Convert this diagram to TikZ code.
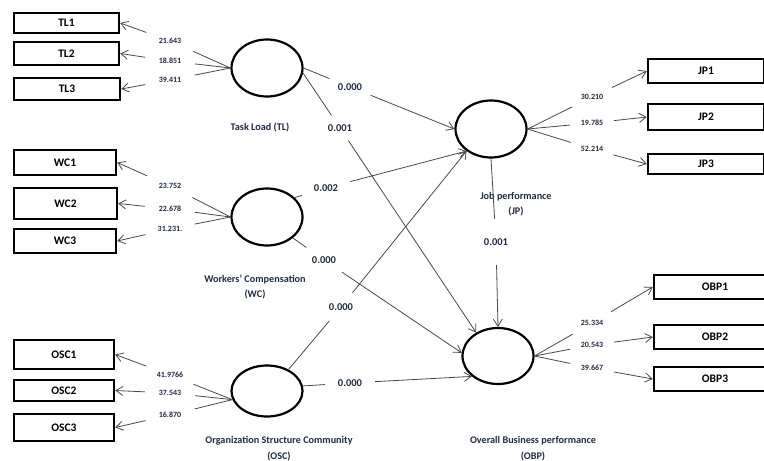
\documentclass[tikz,border=0pt]{standalone}
\usepackage{fontspec}
\setmainfont{Carlito}
\usetikzlibrary{shapes.geometric,arrows.meta}
\definecolor{navy}{RGB}{31,42,68}
\definecolor{linegrey}{RGB}{72,72,72}
\begin{document}
\begin{tikzpicture}[x=1pt,y=-1pt,
	ind/.style={draw,line width=2.4pt,inner sep=0pt,font=\bfseries\fontsize{11.5}{12}\selectfont},
	lat/.style={draw,ellipse,line width=2.2pt,inner sep=0pt,minimum width=71pt,minimum height=57pt},
	ldg/.style={circle,inner sep=0pt,minimum size=50pt,text=navy,font=\bfseries\fontsize{8}{9}\selectfont},
	coef/.style={circle,inner sep=0pt,minimum size=44pt,text=navy,font=\bfseries\fontsize{10.5}{12}\selectfont},
	cname/.style={align=center,text=navy,font=\bfseries\fontsize{10.2}{15.5}\selectfont},
	arr/.style={draw=linegrey,line width=0.8pt,-{Straight Barb[length=7pt,width=9pt]}}]
	\clip (0,0) rectangle (764,461);

	\foreach \n/\x/\y/\w/\h in {TL1/66.5/23/105/20, TL2/66.5/53.5/105/23, TL3/67/89/106/22,
		WC1/65/162.5/102/25, WC2/65.5/203.5/103/31, WC3/65/241/102/24,
		OSC1/64/354.5/100/29, OSC2/64/390.5/100/21, OSC3/64/427.5/100/27,
		JP1/706/71/116/24, JP2/706/117/116/26, JP3/706/164/116/20,
		OBP1/715/287/122/24, OBP2/715/337/122/24, OBP3/715/379/122/24} {
		\node[ind,minimum width=\w pt,minimum height=\h pt] (\n) at (\x,\y) {\n};
	}

	\node[lat] (TL) at (267,68) {};
	\node[lat] (WC) at (267,217) {};
	\node[lat,minimum height=51pt] (OSC) at (267,391) {};
	\node[lat] (JP) at (491,129) {};
	\node[lat,minimum height=56pt] (OBP) at (498,356) {};

	\node[cname] (tTL) at (260,127) {Task Load (TL)};
	\node[cname] (tWC) at (255,287) {Workers’ Compensation\\(WC)};
	\node[cname] (tOSC) at (279,448.5) {Organization Structure Community\\(OSC)};
	\node[cname] (tJP) at (516,204) {Job performance\\(JP)};
	\node[cname] (tOBP) at (533,448.5) {Overall Business performance\\(OBP)};

	\foreach \n/\x/\y/\v in {TL1/170/41/21.643, TL2/170/61/18.851, TL3/170/80/39.411,
		WC1/170/186/23.752, WC2/170/209/22.678, WC3/170/229/31.231.,
		OSC1/170/375/41.9766, OSC2/170/393/37.543, OSC3/170/415/16.870} {
		\node[ldg] (l\n) at (\x,\y) {\v};
	}
	\foreach \n/\x/\y/\v in {JP1/592/97/30.210, JP2/592/123/19.785, JP3/592/149/52.214,
		OBP1/592/323/25.334, OBP2/592/345/20.543, OBP3/592/368/39.667} {
		\node[ldg,minimum size=44pt] (l\n) at (\x,\y) {\v};
	}

	\foreach \n in {TL1,TL2,TL3} \draw[arr] (TL.west) to (l\n) to (\n.east);
	\foreach \n in {WC1,WC2,WC3} \draw[arr] (WC.west) to (l\n) to (\n.east);
	\foreach \n in {OSC1,OSC2,OSC3} \draw[arr] (OSC.194) to (l\n) to (\n.east);
	\foreach \n in {JP1,JP2,JP3} \draw[arr] (JP.east) to (l\n) to (\n.west);
	\foreach \n in {OBP1,OBP2,OBP3} \draw[arr] (OBP.east) to (l\n) to (\n.west);

	\node[coef] (cTLJP) at (350,87) {0.000};
	\node[coef,minimum size=30pt] (cTLOBP) at (340,128) {0.001};
	\node[coef,minimum size=50pt] (cWCJP) at (326,188) {0.002};
	\node[coef,minimum size=43pt] (cWCOBP) at (324,260) {0.000};
	\node[coef,minimum size=36pt] (cOSCJP) at (341,307) {0.000};
	\node[coef,minimum size=50pt] (cOSCOBP) at (350,383) {0.000};
	\node[coef,minimum size=46pt] (cJPOBP) at (496,242) {0.001};

	\draw[arr] (TL.east) to (cTLJP) to (JP.west);
	\draw[arr] (TL.-8) to (cTLOBP) to (OBP.133);
	\draw[arr] (WC.35) to (cWCJP) to (JP.222);
	\draw[arr] (WC.-39) to (cWCOBP) to (OBP.175);
	\draw[arr] (OSC.45) to (cOSCJP) to (JP.222);
	\draw[arr] (OSC.8) to (cOSCOBP) to (OBP.218);
	\draw[arr] (JP.south) to (cJPOBP) to (OBP.north);
\end{tikzpicture}
\end{document}
